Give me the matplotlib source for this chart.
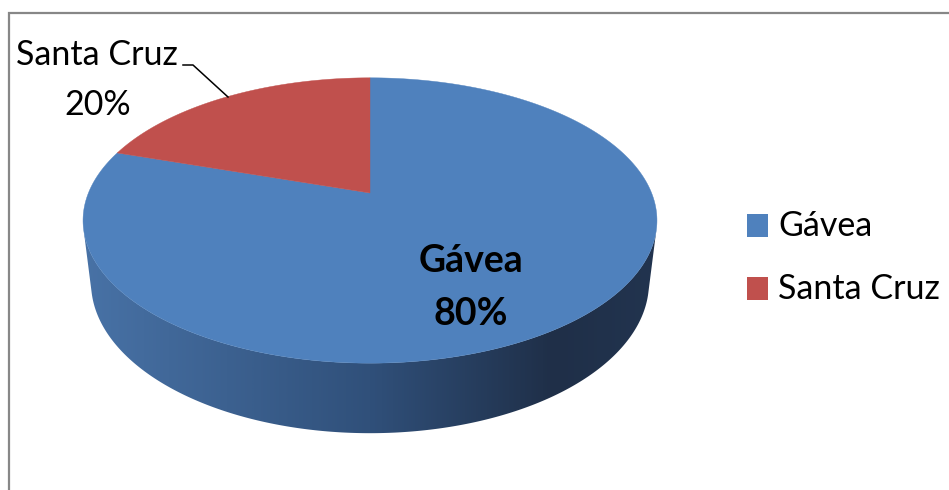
import numpy as np
import matplotlib.pyplot as plt
from matplotlib.patches import Polygon, Rectangle
from matplotlib.colors import LinearSegmentedColormap

# dados
labels = ['Gávea', 'Santa Cruz']
values = [80, 20]
colors = ['#4f81bd', '#c0504d']

W, H = 949, 490
fig = plt.figure(figsize=(W / 100, H / 100), dpi=100)
ax = fig.add_axes([0, 0, 1, 1])
ax.set_xlim(0, W)
ax.set_ylim(H, 0)
ax.axis('off')

FONT = ['Lato', 'DejaVu Sans']

# camera em perspectiva (pizza 3D estilo Excel)
cx, cy = 370, 193
phi = np.radians(29.2)
D = 4.53
F = 1275.6
depth = 0.257


def proj(t, z=0.0):
    u, v = np.cos(t), np.sin(t)
    w = D + v * np.cos(phi) - z * np.sin(phi)
    x = cx + F * u / w
    y = cy - F * (v * np.sin(phi) + z * np.cos(phi)) / w
    return x, y


# lateral (parte da frente do cilindro)
ts = np.arcsin(1 / (D * np.cos(phi)))
t_side = np.linspace(np.pi + ts, 2 * np.pi - ts, 300)
xt, yt = proj(t_side, 0.0)
xb, yb = proj(t_side[::-1], -depth)
side = Polygon(np.column_stack([np.r_[xt, xb], np.r_[yt, yb]]), closed=True,
               facecolor='none', edgecolor='none')
ax.add_patch(side)
cmap = LinearSegmentedColormap.from_list('side', [
    (0.0, '#4872a6'), (0.5, '#30507a'), (0.82, '#1f2f48'), (1.0, '#22344f')])
grad = np.linspace(0, 1, 512).reshape(1, -1)
im = ax.imshow(grad, cmap=cmap, aspect='auto',
               extent=(xt.min(), xt.max(), yb.max() + 2, yt.min() - 2), zorder=1)
im.set_clip_path(side)

# fatias do topo (sentido horário a partir das 12h)
fracs = np.array(values) / np.sum(values)
start = np.pi / 2
for frac, col in zip(fracs, colors):
    end = start - 2 * np.pi * frac
    t = np.linspace(start, end, 400)
    x, y = proj(t)
    pts = np.column_stack([np.r_[cx, x], np.r_[cy, y]])
    ax.add_patch(Polygon(pts, closed=True, facecolor=col, edgecolor=col,
                         lw=0.3, zorder=2))
    start = end

# rótulos
ax.text(471, 272, labels[0], ha='center', va='baseline', fontsize=27,
        fontweight='bold', family=FONT, zorder=3)
ax.text(471, 325, f'{values[0]}%', ha='center', va='baseline', fontsize=27,
        fontweight='bold', family=FONT, zorder=3)
ax.text(97, 65, labels[1], ha='center', va='baseline', fontsize=24.5,
        family=FONT, zorder=3)
ax.text(98, 115, f'{values[1]}%', ha='center', va='baseline', fontsize=24.5,
        family=FONT, zorder=3)
ax.plot([183, 193, 228], [65, 65, 97], color='black', lw=1.1, zorder=3)

# legenda
for i, (lab, col) in enumerate(zip(labels, colors)):
    y0 = 214 + i * 63
    ax.add_patch(Rectangle((747, y0), 21, 23, facecolor=col, edgecolor='none'))
    ax.text(778, y0 + 11.5, lab, ha='left', va='center', fontsize=24.5,
            family=FONT)

# moldura
ax.plot([9, 9, W + 5], [H + 5, 13, 13], color='#878787', lw=1.6,
        solid_joinstyle='miter')

fig.savefig('out.png', dpi=100)
